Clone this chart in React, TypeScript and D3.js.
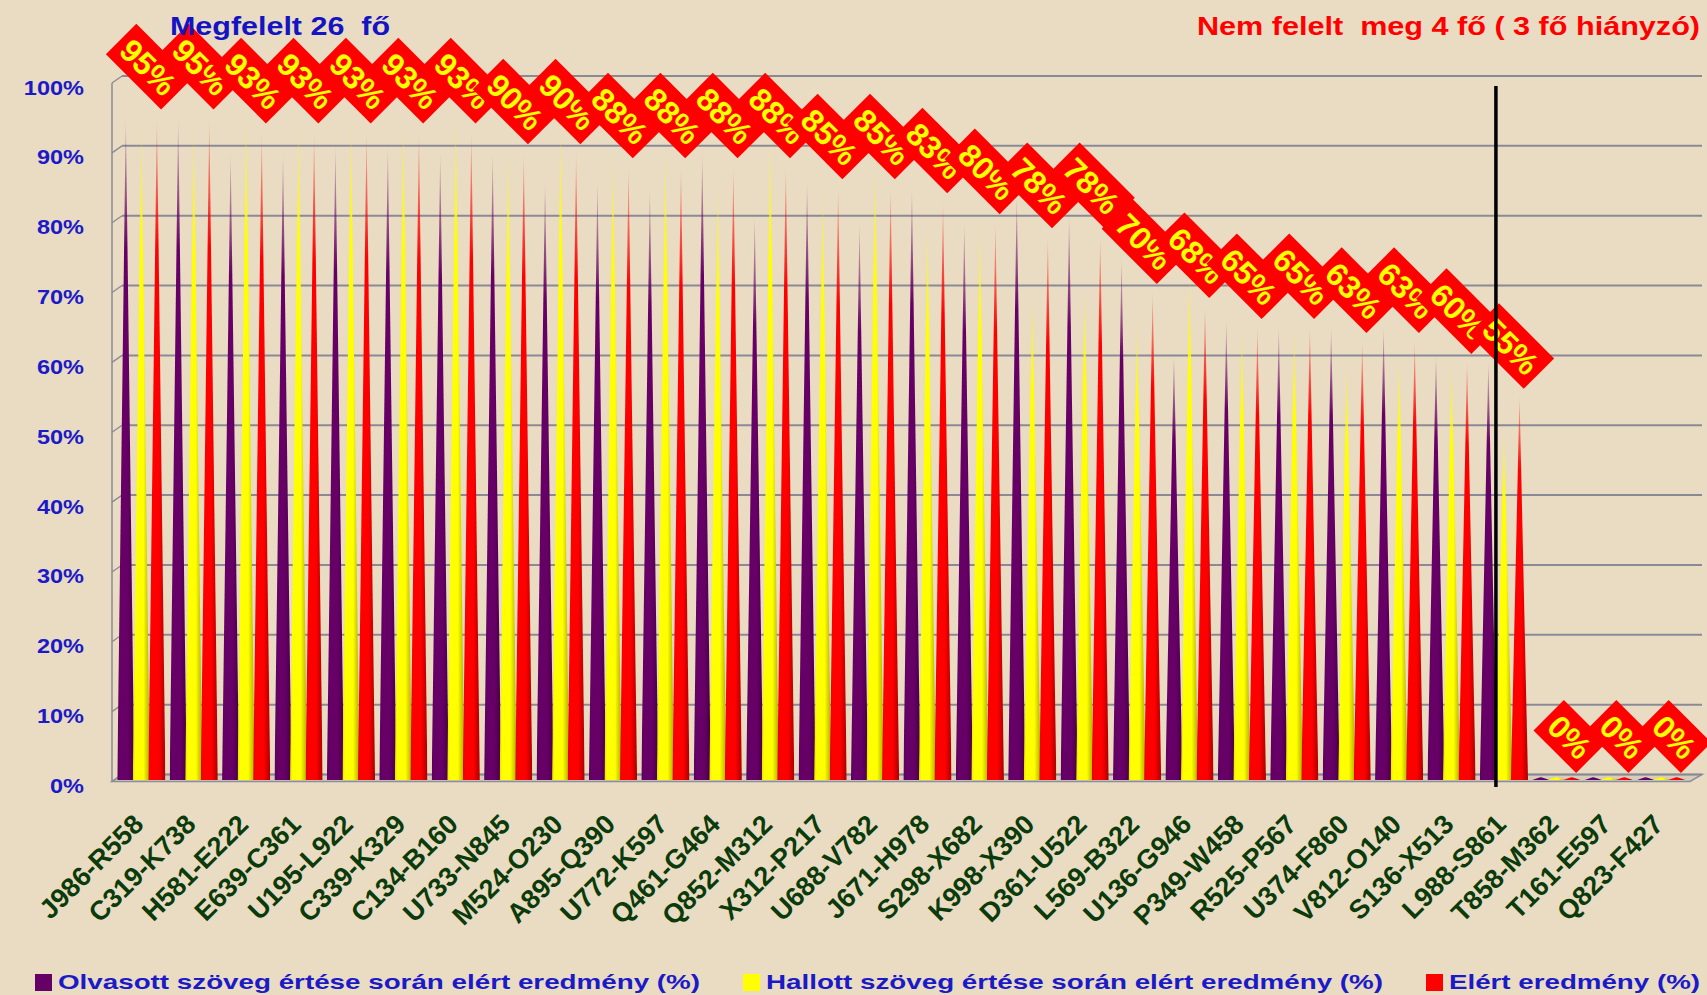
import React, { useEffect, useRef } from 'react';
import * as d3 from 'd3';

const categories = [
  'J986-R558', 'C319-K738', 'H581-E222', 'E639-C361', 'U195-L922', 'C339-K329',
  'C134-B160', 'U733-N845', 'M524-O230', 'A895-Q390', 'U772-K597', 'Q461-G464',
  'Q852-M312', 'X312-P217', 'U688-V782', 'J671-H978', 'S298-X682', 'K998-X390',
  'D361-U522', 'L569-B322', 'U136-G946', 'P349-W458', 'R525-P567', 'U374-F860',
  'V812-O140', 'S136-X513', 'L988-S861', 'T858-M362', 'T161-E597', 'Q823-F427',
];

// Olvasott szöveg (lila)
const olvasott = [95, 95, 90, 90, 91, 91, 90, 90, 86, 86, 85, 90, 81, 86, 80, 85, 80, 84, 81, 75, 61, 66, 65, 65, 65, 61, 60, 0, 0, 0];
// Hallott szöveg (sárga)
const hallott = [94, 94, 96, 95, 95, 95, 96, 91, 94, 90, 91, 86, 93, 85, 89, 80, 80, 70, 71, 66, 73, 65, 65, 60, 61, 60, 50, 0, 0, 0];
// Elért eredmény (piros) - a rombuszokon is ez áll
const elert = [95, 95, 93, 93, 93, 93, 93, 90, 90, 88, 88, 88, 88, 85, 85, 83, 80, 78, 78, 70, 68, 65, 65, 63, 63, 60, 55, 0, 0, 0];

const yTicks = [0, 10, 20, 30, 40, 50, 60, 70, 80, 90, 100];
const seriesNames = [
  'Olvasott szöveg értése során elért eredmény (%)',
  'Hallott szöveg értése során elért eredmény (%)',
  'Elért eredmény (%)',
];
const seriesColors = ['#660066', '#ffff00', '#ff0000'];
const titleLeft = 'Megfelelt 26  fő';
const titleRight = 'Nem felelt  meg 4 fő ( 3 fő hiányzó)';
const dividerCategory = 'L988-S861';

const W = 1707;
const H = 995;
const FONT = '"Liberation Sans", Arial, sans-serif';

const App = () => {
  const ref = useRef<SVGSVGElement>(null);

  useEffect(() => {
    document.body.style.margin = '0';
    document.body.style.overflow = 'hidden';
    draw();
  }, []);

  const draw = () => {
    const svg = d3.select(ref.current);
    svg.selectAll('*').remove();

    const x = d3.scaleBand<string>().domain(categories).range([112, 1690]).padding(0.11);
    const xs = d3.scaleBand<number>().domain([0, 1, 2]).range([0, x.bandwidth()]);
    const y = d3.scaleLinear().domain([0, 100]).range([778, 79.5]);
    const dx = 10;
    const dy = 3.5;
    const left = 112;
    const right = 1690;

    svg.append('rect').attr('width', W).attr('height', H).attr('fill', '#eadcc2');

    const defs = svg.append('defs');
    seriesColors.forEach((c, i) => {
      const g = defs.append('linearGradient').attr('id', 'sp' + i).attr('x1', 0).attr('x2', 1).attr('y1', 0).attr('y2', 0);
      const base = d3.color(c)!;
      g.append('stop').attr('offset', 0).attr('stop-color', base.darker(0.35).formatHex());
      g.append('stop').attr('offset', 0.15).attr('stop-color', c);
      g.append('stop').attr('offset', 0.62).attr('stop-color', c);
      g.append('stop').attr('offset', 1).attr('stop-color', base.darker(1.1).formatHex());
    });
    const fade = defs.append('linearGradient').attr('id', 'fadeG').attr('x1', 0).attr('x2', 0).attr('y1', 0).attr('y2', 1);
    fade.append('stop').attr('offset', 0).attr('stop-color', '#000');
    fade.append('stop').attr('offset', 0.04).attr('stop-color', '#444');
    fade.append('stop').attr('offset', 0.2).attr('stop-color', '#fff');
    fade.append('stop').attr('offset', 1).attr('stop-color', '#fff');
    defs.append('mask').attr('id', 'fadeM').attr('maskContentUnits', 'objectBoundingBox')
      .append('rect').attr('width', 1).attr('height', 1).attr('fill', 'url(#fadeG)');

    // padló
    svg.append('polygon')
      .attr('points', [[left, y(0) + dy], [right, y(0) + dy], [right + dx + 2, y(0) - dy], [left + dx, y(0) - dy]].join(' '))
      .attr('fill', '#d6cdbb').attr('stroke', '#8d8d99').attr('stroke-width', 1.5);

    // hátsó fal rácsvonalai
    const grid = svg.append('g');
    grid.selectAll('line.h').data(yTicks).enter().append('line')
      .attr('x1', left + dx).attr('x2', right + dx + 2)
      .attr('y1', d => y(d) - dy).attr('y2', d => y(d) - dy)
      .attr('stroke', '#8a8a96').attr('stroke-width', 2);
    grid.selectAll('line.d').data(yTicks).enter().append('line')
      .attr('x1', left).attr('x2', left + dx)
      .attr('y1', d => y(d) + dy).attr('y2', d => y(d) - dy)
      .attr('stroke', '#8a8a96').attr('stroke-width', 1.3);
    grid.append('line').attr('x1', left).attr('x2', left)
      .attr('y1', y(100) + dy).attr('y2', y(0) + dy)
      .attr('stroke', '#8a8a96').attr('stroke-width', 1.5);

    // y feliratok
    svg.append('g').selectAll('text').data(yTicks).enter().append('text')
      .attr('transform', d => `translate(84,${y(d) + 15}) scale(1.12,1)`)
      .attr('text-anchor', 'end')
      .attr('font-family', FONT).attr('font-weight', 'bold').attr('font-size', 21)
      .attr('fill', '#1a1ac8')
      .text(d => d + '%');

    // kúpok (egyenes oldalú tüskék)
    const spike = (x0: number, w: number, yb: number, yt: number) =>
      `M${x0},${yb} L${x0 + w / 2},${yt} L${x0 + w},${yb} Z`;
    const series = [olvasott, hallott, elert];
    const rows = categories.flatMap((c, i) => series.map((s, k) => ({ c, k, v: s[i] })));
    const baseY = y(0) + 2;
    svg.append('g').selectAll('path').data(rows).enter().append('path')
      .attr('d', d => spike(x(d.c)! + xs(d.k)! - 0.5, xs.bandwidth() + 1.5, baseY, Math.min(y(d.v), baseY - 3)))
      .attr('fill', d => `url(#sp${d.k})`)
      .attr('mask', 'url(#fadeM)');

    // rombusz alakú értékcímkék
    const lab = svg.append('g').selectAll('g').data(categories).enter().append('g')
      .attr('transform', (c, i) => `translate(${x(c)! + x.bandwidth() / 2 + 20},${y(elert[i]) - 5}) rotate(45)`);
    lab.append('rect').attr('fill', '#ff0000');
    const txt = lab.append('text')
      .attr('text-anchor', 'middle').attr('dominant-baseline', 'central')
      .attr('font-family', FONT).attr('font-weight', 'bold').attr('font-size', 32)
      .attr('fill', '#ffff00')
      .text((c, i) => elert[i] + '%');
    txt.each(function (this: SVGTextElement) {
      const L = this.getComputedTextLength() + 14;
      const Hh = 43;
      d3.select(this).attr('x', -L / 2).attr('y', -Hh / 2 + 1);
      d3.select(this.previousSibling as SVGRectElement)
        .attr('x', -L).attr('y', -Hh).attr('width', L).attr('height', Hh);
    });

    // kategória feliratok
    svg.append('g').selectAll('text').data(categories).enter().append('text')
      .attr('transform', c => `translate(${x(c)! + x.bandwidth() / 2 + 4},826) rotate(-45)`)
      .attr('text-anchor', 'end')
      .attr('font-family', FONT).attr('font-weight', 'bold').attr('font-size', 27)
      .attr('fill', '#0b3a0b')
      .text(c => c);

    // elválasztó vonal
    const xd = x(dividerCategory)! + xs.bandwidth();
    svg.append('line').attr('x1', xd).attr('x2', xd).attr('y1', 86).attr('y2', 787)
      .attr('stroke', '#000').attr('stroke-width', 3.5);

    // címek
    svg.append('text').attr('x', 170).attr('y', 35)
      .attr('font-family', FONT).attr('font-weight', 'bold').attr('font-size', 25)
      .attr('fill', '#1414c4').style('white-space', 'pre')
      .attr('textLength', 220).attr('lengthAdjust', 'spacingAndGlyphs')
      .text(titleLeft);
    svg.append('text').attr('x', 1197).attr('y', 35)
      .attr('font-family', FONT).attr('font-weight', 'bold').attr('font-size', 25)
      .attr('fill', '#ff0000').style('white-space', 'pre')
      .attr('textLength', 503).attr('lengthAdjust', 'spacingAndGlyphs')
      .text(titleRight);

    // jelmagyarázat
    const legendX = [35, 743, 1426];
    const legendEnd = [700, 1383, 1700];
    const lg = svg.append('g').selectAll('g').data(seriesNames).enter().append('g');
    lg.append('rect')
      .attr('x', (d, i) => legendX[i]).attr('y', 974).attr('width', 17).attr('height', 17)
      .attr('fill', (d, i) => seriesColors[i]);
    lg.append('text')
      .attr('x', (d, i) => legendX[i] + 23).attr('y', 989)
      .attr('font-family', FONT).attr('font-weight', 'bold').attr('font-size', 21)
      .attr('fill', '#1a1ac8')
      .attr('textLength', (d, i) => legendEnd[i] - legendX[i] - 23).attr('lengthAdjust', 'spacingAndGlyphs')
      .text(d => d);
  };

  return (
    <svg ref={ref} width={W} height={H} style={{ position: 'absolute', left: 0, top: 0, display: 'block' }}>
      {/* D3 rajzolja */}
    </svg>
  );
};

export default App;
